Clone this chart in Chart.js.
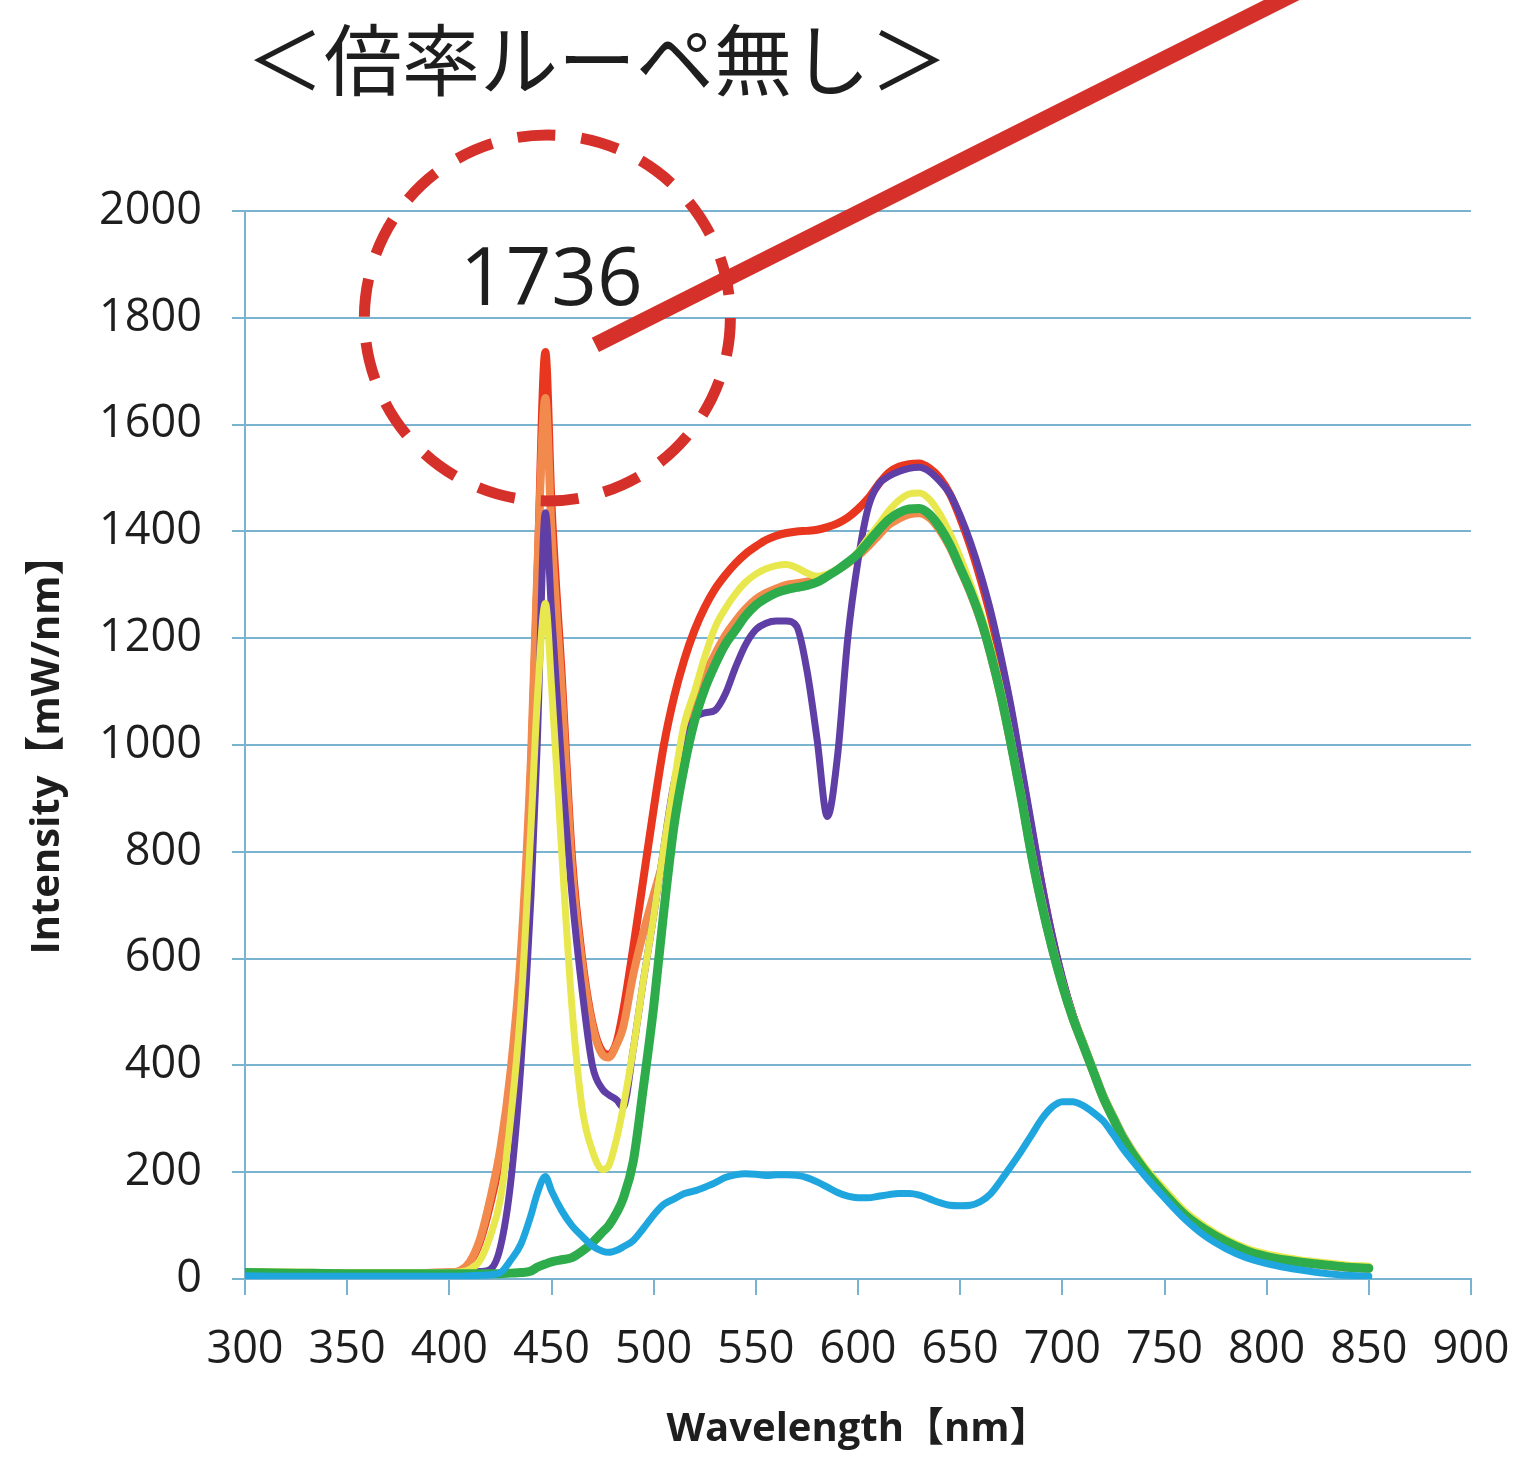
<!DOCTYPE html>
<html lang="ja">
<head>
<meta charset="utf-8">
<title>倍率ルーペ無し スペクトル</title>
<script src="https://cdn.jsdelivr.net/npm/chart.js@4.4.1/dist/chart.umd.min.js"></script>
<style>
  html, body { margin: 0; padding: 0; background: #ffffff; }
  #wrap { position: relative; width: 1517px; height: 1461px; }
</style>
</head>
<body>
<div id="wrap"><canvas id="spec"></canvas></div>
<script>
// Wavelength grid [nm] shared by every spectrum
const wavelengths = [300,325,350,375,400,405,410,415,420,425,430,435,440,443,447,450,455,460,465,470,475,478,482,
  485,490,495,500,505,510,515,520,525,530,535,540,545,550,555,560,565,570,575,580,585,590,595,600,605,610,615,620,
  625,630,635,640,645,650,655,660,665,670,675,680,685,690,695,700,705,710,715,720,725,730,
  740,750,760,770,780,790,800,810,820,830,840,850];

// Spectral intensity [mW/nm]
const redValues = [12,11,11,11,12, 14,30,70,140,230,370,580,950, 1300,1736, 1450,1130,790,600,480,425, 420,445,
  500,620,750,880,1000,1090,1160,1215,1258,1292,1318,1340,1358,1372,1384,1392,1397,1400,1401,1403,1408,1415,1426,1442,
  1462,1488,1510,1521,1526,1527,1518,1500,1470,1425,1372,1310,1240,1155,1060,950,840,735,640,560,495,442,392,342,302,264,
  207,162,122,94,72,55,44,37,31,27,23,21];

const orangeValues = [12,11,11,11,12, 15,32,75,150,245,390,610,980, 1320,1650, 1400,1100,770,590,475,420, 415,440,
  470,570,650,720,790,900,1000,1075,1130,1170,1205,1232,1255,1273,1285,1293,1300,1303,1306,1310,1318,1328,1340,1354,
  1372,1392,1412,1424,1432,1434,1425,1402,1370,1328,1284,1232,1166,1088,996,898,790,698,618,548,488,438,388,338,298,260,
  203,158,118,90,68,52,41,34,29,25,21,19];

const purpleValues = [10,10,10,10,10, 10,11,14,18,60,180,400,720, 1000,1435, 1250,960,720,540,400,355, 345,335,
  322,430,560,680,810,930,1000,1050,1060,1065,1095,1145,1188,1216,1228,1232,1232,1222,1140,1010,866,980,1200,1345,
  1445,1488,1503,1512,1518,1520,1512,1494,1470,1430,1380,1320,1250,1165,1070,960,850,740,645,565,498,446,396,346,306,268,
  210,166,125,96,73,56,45,38,32,28,24,22];

const yellowValues = [14,13,12,12,12, 13,18,35,80,150,300,510,850, 1080,1265, 1110,800,510,320,240,205, 212,265,
  320,430,560,680,810,930,1040,1100,1165,1220,1255,1283,1305,1320,1330,1336,1338,1332,1322,1316,1320,1330,1342,1362,
  1388,1412,1438,1458,1470,1472,1460,1433,1396,1352,1302,1248,1182,1102,1010,910,802,710,628,557,496,446,396,346,306,268,
  212,168,127,98,75,58,47,40,34,30,26,24];

const greenValues = [12,11,10,10,10, 10,10,10,10,10,11,12,15, 22,28, 32,36,40,52,68,88, 100,125,
  150,220,360,510,690,850,960,1045,1105,1150,1188,1215,1242,1262,1275,1285,1291,1295,1299,1305,1316,1328,1342,1358,
  1380,1402,1422,1435,1442,1443,1432,1408,1375,1332,1288,1236,1170,1092,1000,900,792,700,620,550,490,440,390,340,300,262,
  205,160,120,92,70,53,42,35,30,26,22,20];

const blueValues = [6,5,5,5,5, 5,6,7,8,12,35,65,120, 160,192, 165,128,100,80,62,52, 50,54,
  60,72,95,120,140,150,160,165,172,180,190,195,197,196,194,195,195,194,190,182,172,162,155,152,
  152,155,158,160,160,157,150,143,138,137,138,145,160,185,212,240,270,300,322,332,332,325,312,296,270,242,
  195,152,112,80,57,40,29,21,15,10,7,5];

// Axis ticks
const xTicks = [300,350,400,450,500,550,600,650,700,750,800,850,900];
const yTicks = [0,200,400,600,800,1000,1200,1400,1600,1800,2000];

const titleText = '＜倍率ルーペ無し＞';
const xTitle = 'Wavelength【nm】';
const yTitle = 'Intensity【mW/nm】';

const GRID = '#79B3CF';
const TEXT = '#1e1e1e';
const MARK = '#D6302A';

function pts(vals) {
  return wavelengths.map((w, i) => ({ x: w, y: vals[i] }));
}

function series(label, vals, color, width) {
  return {
    label, data: pts(vals), borderColor: color, backgroundColor: color,
    borderWidth: width, pointRadius: 0, fill: false,
    cubicInterpolationMode: 'monotone', borderCapStyle: 'round', borderJoinStyle: 'round'
  };
}

// Highest point of the red spectrum, called out with a dashed ring and a pointer
const peakIndex = redValues.indexOf(Math.max(...redValues));
const peakX = wavelengths[peakIndex];
const peakY = redValues[peakIndex];

const calloutPlugin = {
  id: 'callout',
  afterDraw(chart) {
    const { ctx, chartArea, scales } = chart;
    const xs = scales.x, ys = scales.y;
    const px = xs.getPixelForValue(peakX);
    const py = ys.getPixelForValue(peakY);
    ctx.save();

    // heading
    ctx.fillStyle = TEXT;
    ctx.font = "400 78px 'Noto Sans CJK JP'";
    ctx.textAlign = 'left';
    ctx.textBaseline = 'middle';
    ctx.fillText(titleText, chartArea.left + 1, 60);

    // dashed ring around the peak
    ctx.strokeStyle = MARK;
    ctx.lineWidth = 11;
    ctx.setLineDash([38, 26]);
    ctx.beginPath();
    ctx.arc(px + 2, py - 34, 183, 0, Math.PI * 2);
    ctx.stroke();
    ctx.setLineDash([]);

    // pointer line leaving the chart
    ctx.lineWidth = 16;
    ctx.lineCap = 'butt';
    ctx.beginPath();
    ctx.moveTo(px + 50, py - 7);
    ctx.lineTo(px + 50 + 760, py - 7 - 382);
    ctx.stroke();

    // peak value
    ctx.fillStyle = TEXT;
    ctx.font = "400 80px 'Open Sans'";
    ctx.textAlign = 'center';
    ctx.textBaseline = 'alphabetic';
    ctx.fillText(String(peakY), px + 6, py - 47);
    ctx.restore();
  }
};

const tickFont = { family: "'Open Sans', 'DejaVu Sans', sans-serif", size: 45, weight: '400' };
const titleFont = { family: "'Open Sans', 'Noto Sans CJK JP', sans-serif", size: 40, weight: '700' };

new Chart(document.getElementById('spec'), {
  type: 'line',
  data: {
    datasets: [
      series('blue', blueValues, '#1FA6DF', 7),
      series('green', greenValues, '#2EAB4B', 9),
      series('yellow', yellowValues, '#E8E84E', 7),
      series('purple', purpleValues, '#5F3FA6', 7),
      series('orange', orangeValues, '#F28A4E', 8),
      series('red', redValues, '#E8361F', 8)
    ]
  },
  options: {
    responsive: true,
    maintainAspectRatio: false,
    devicePixelRatio: 1,
    animation: false,
    events: [],
    layout: { padding: { left: 0, top: 211, right: 46, bottom: 0 } },
    plugins: { legend: { display: false }, tooltip: { enabled: false }, title: { display: false } },
    scales: {
      x: {
        type: 'linear', min: 300, max: 900,
        afterBuildTicks(s) { s.ticks = xTicks.map(v => ({ value: v })); },
        afterFit(s) { s.height = 182; s.paddingLeft = 0; s.paddingRight = 0; },
        ticks: { font: tickFont, color: TEXT, padding: 28, maxRotation: 0, autoSkip: false, callback: v => String(v) },
        grid: { drawOnChartArea: false, drawTicks: true, tickLength: 16, color: GRID, lineWidth: 2 },
        border: { display: true, color: GRID, width: 2 },
        title: { display: true, text: xTitle, font: titleFont, color: TEXT, padding: { top: 0, bottom: 7 } }
      },
      y: {
        type: 'linear', min: 0, max: 2000,
        afterBuildTicks(s) { s.ticks = yTicks.map(v => ({ value: v })); },
        afterFit(s) { s.width = 245; s.paddingTop = 0; s.paddingBottom = 0; },
        ticks: { font: tickFont, color: TEXT, padding: 30, autoSkip: false, callback: v => String(v) },
        grid: { drawTicks: true, tickLength: 13, color: GRID, lineWidth: 2 },
        border: { display: true, color: GRID, width: 2 },
        title: { display: true, text: yTitle, font: { ...titleFont, size: 40 }, color: TEXT, padding: { top: 24, bottom: 0 } }
      }
    }
  },
  plugins: [calloutPlugin]
});
</script>
</body>
</html>
